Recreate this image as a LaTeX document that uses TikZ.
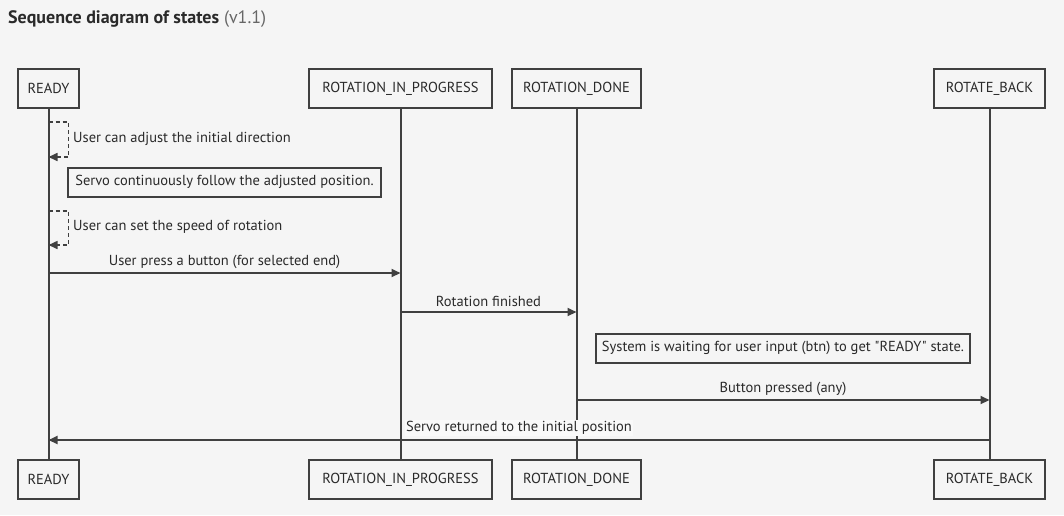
\documentclass[tikz,border=0pt]{standalone}
\usepackage{fontspec}
\setmainfont{PT Sans}
\newfontfamily\plainfont{PT Sans}
\usetikzlibrary{arrows.meta}
\definecolor{bg}{HTML}{F5F5F5}
\definecolor{ln}{HTML}{404040}
\definecolor{tx}{HTML}{2A2A2A}
\begin{document}
\begin{tikzpicture}[x=1pt,y=-1pt,
  actor/.style={draw=ln,line width=2pt,fill=bg,minimum height=39pt,inner sep=0pt,text=tx,font=\fontsize{14.5}{17}\selectfont},
  life/.style={draw=ln,line width=2pt},
  msg/.style={draw=ln,line width=2pt,-{Triangle[length=9pt,width=8pt]}},
  selfmsg/.style={draw=ln,line width=1.6pt,dash pattern=on 4pt off 3pt,-{Triangle[length=9pt,width=8pt]}},
  lbl/.style={text=tx,font=\fontsize{14.5}{17}\selectfont,inner sep=1pt},
  note/.style={draw=ln,line width=2pt,fill=bg,text=tx,font=\fontsize{14.5}{17}\selectfont,inner sep=0pt,minimum height=29pt}
]
\fill[bg] (0,0) rectangle (1064,515);
\useasboundingbox (0,0) rectangle (1064,515);
\node[anchor=base west,text=tx,inner sep=0pt,font=\fontsize{18}{21}\selectfont] (title) at (8,23) {\textbf{Sequence diagram of states} \textcolor{ln!80}{(v1.1)}};
% top actors
\node[actor,minimum width=61pt] (rdy) at (48.5,88.5) {READY};
\node[actor,minimum width=183pt] (rip) at (400.5,88.5) {ROTATION\_IN\_PROGRESS};
\node[actor,minimum width=129pt] (rdn) at (576.5,88.5) {ROTATION\_DONE};
\node[actor,minimum width=111pt] (rbk) at (989.5,88.5) {ROTATE\_BACK};
% bottom actors
\node[actor,minimum width=61pt] (rdyB) at (48.5,479.5) {READY};
\node[actor,minimum width=183pt] (ripB) at (400.5,479.5) {ROTATION\_IN\_PROGRESS};
\node[actor,minimum width=129pt] (rdnB) at (576.5,479.5) {ROTATION\_DONE};
\node[actor,minimum width=111pt] (rbkB) at (989.5,479.5) {ROTATE\_BACK};
% lifelines
\draw[life] (rdy.south) -- (rdyB.north);
\draw[life] (rip.south) -- (ripB.north);
\draw[life] (rdn.south) -- (rdnB.north);
\draw[life] (rbk.south) -- (rbkB.north);
% self message 1
\coordinate (s1a) at (48.5,122);
\coordinate (s1b) at (48.5,157);
\draw[selfmsg] (s1a) -- ++(20,0) |- (s1b);
\node[lbl,anchor=west] (l1) at (72,139) {User can adjust the initial direction};
% note 1
\node[note,minimum width=313pt] (n1) at (224.5,182) {Servo continuously follow the adjusted position.};
% self message 2
\coordinate (s2a) at (48.5,211);
\coordinate (s2b) at (48.5,245);
\draw[selfmsg] (s2a) -- ++(20,0) |- (s2b);
\node[lbl,anchor=west] (l2) at (72,227) {User can set the speed of rotation};
% message 3
\coordinate (m3a) at (48.5,273);
\coordinate (m3b) at (400.5,273);
\draw[msg] (m3a) -- (m3b);
\node[lbl] (l3) at (224.5,262) {User press a button (for selected end)};
% message 4
\coordinate (m4a) at (400.5,312);
\coordinate (m4b) at (576.5,312);
\draw[msg] (m4a) -- (m4b);
\node[lbl] (l4) at (488.5,301) {Rotation finished};
% note 2
\node[note,minimum width=374pt] (n2) at (783,348) {\plainfont System is waiting for user input (btn) to get "READY" state.};
% message 5
\coordinate (m5a) at (576.5,400);
\coordinate (m5b) at (989.5,400);
\draw[msg] (m5a) -- (m5b);
\node[lbl] (l5) at (783,389) {Button pressed (any)};
% message 6
\coordinate (m6a) at (989.5,440);
\coordinate (m6b) at (48.5,440);
\draw[msg] (m6a) -- (m6b);
\node[lbl,fill=bg!60!white] (l6) at (519,428) {Servo returned to the initial position};
\end{tikzpicture}
\end{document}
